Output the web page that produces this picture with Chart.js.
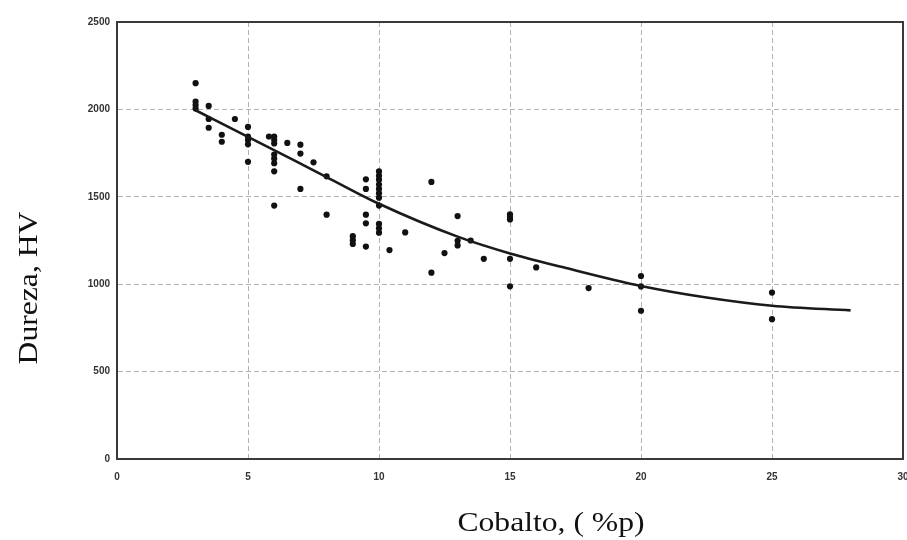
<!DOCTYPE html>
<html>
<head>
<meta charset="utf-8">
<title>Dureza vs Cobalto</title>
<script src="https://cdn.jsdelivr.net/npm/chart.js@4/dist/chart.umd.min.js"></script>
<style>
  html, body { margin: 0; padding: 0; background: #fff; }
  #wrap { width: 907px; height: 540px; position: relative; }
</style>
</head>
<body>
<div id="wrap"><canvas id="chart" width="907" height="540"></canvas></div>
<script>
// measured samples: cobalt content (%p) and Vickers hardness
const cobalt = [
  3, 3, 3, 3,
  3.5, 3.5, 3.5,
  4, 4,
  4.5,
  5, 5, 5, 5, 5,
  5.8,
  6, 6, 6, 6, 6, 6, 6, 6,
  6.5,
  7, 7, 7,
  7.5,
  8, 8,
  9, 9, 9,
  9.5, 9.5, 9.5, 9.5, 9.5,
  10, 10, 10, 10, 10, 10, 10, 10, 10, 10, 10,
  10.4,
  11,
  12, 12,
  12.5,
  13, 13, 13,
  13.5,
  14,
  15, 15, 15, 15, 15,
  16,
  18,
  20, 20, 20,
  25, 25
];
const hardness = [
  2150, 2045, 2025, 2005,
  2020, 1945, 1895,
  1855, 1815,
  1945,
  1900, 1845, 1825, 1800, 1700,
  1845,
  1845, 1825, 1805, 1742, 1718, 1692, 1646, 1450,
  1808,
  1798, 1747, 1545,
  1697,
  1617, 1398,
  1275, 1252, 1230,
  1600, 1545, 1398, 1348, 1215,
  1645, 1620, 1598, 1570, 1545, 1520, 1495, 1450, 1345, 1320, 1295,
  1195,
  1296,
  1585, 1066,
  1178,
  1390, 1248, 1222,
  1250,
  1145,
  1400, 1385, 1370, 1145, 988,
  1096,
  978,
  1047, 987, 848,
  952, 800
];

// trend curve read along its length
const trendX = [3, 5, 8, 10, 13, 15, 17, 20, 22.5, 25, 28];
const trendY = [1995, 1843, 1613, 1460, 1272, 1176, 1098, 990, 924, 877, 850];

const X_TICK_STEP = 5;
const Y_TICK_STEP = 500;
const X_TITLE = "Cobalto, ( %p)";
const Y_TITLE = "Dureza, HV";

const INK = "#111";
const GRID = "rgba(0,0,0,0.3)";
const FRAME = "#3a3a3a";

const points = cobalt.map((x, i) => ({ x, y: hardness[i] }));
const trend = trendX.map((x, i) => ({ x, y: trendY[i] }));

// closes the plot box on top and right
const frame = {
  id: "frame",
  afterDatasetsDraw(chart) {
    const { ctx, chartArea: a } = chart;
    ctx.save();
    ctx.strokeStyle = FRAME;
    ctx.lineWidth = 2;
    ctx.strokeRect(a.left, a.top, a.right - a.left, a.bottom - a.top);
    ctx.restore();
  },
};

// serif axis titles, slightly wide
const axisTitles = {
  id: "axisTitles",
  afterDraw(chart) {
    const { ctx } = chart;
    ctx.save();
    ctx.fillStyle = INK;
    ctx.font = '28px "Liberation Serif", "Times New Roman", serif';
    ctx.textAlign = "center";
    ctx.textBaseline = "alphabetic";

    ctx.save();
    ctx.translate(551, 531);
    ctx.scale(1.13, 1);
    ctx.fillText(X_TITLE, 0, 0);
    ctx.restore();

    ctx.save();
    ctx.translate(37, 288);
    ctx.rotate(-Math.PI / 2);
    ctx.scale(1.13, 1);
    ctx.fillText(Y_TITLE, 0, 0);
    ctx.restore();

    ctx.restore();
  },
};

const tickFont = { family: '"Liberation Sans", Arial, sans-serif', size: 10, weight: "bold" };
const plain = (v) => String(v);

new Chart(document.getElementById("chart"), {
  type: "scatter",
  data: {
    datasets: [
      {
        data: points,
        pointStyle: "circle",
        pointRadius: 3.1,
        pointBackgroundColor: INK,
        pointBorderWidth: 0,
        order: 2,
      },
      {
        data: trend,
        showLine: true,
        borderColor: "#1a1a1a",
        borderWidth: 2.6,
        pointRadius: 0,
        cubicInterpolationMode: "monotone",
        order: 1,
      },
    ],
  },
  options: {
    responsive: false,
    animation: false,
    layout: { padding: { top: 22, right: 4, left: 0, bottom: 0 } },
    plugins: {
      legend: { display: false },
      tooltip: { enabled: false },
    },
    scales: {
      x: {
        type: "linear",
        min: 0,
        max: 30,
        ticks: { stepSize: X_TICK_STEP, color: "#333", font: tickFont, padding: 12, maxRotation: 0, callback: plain },
        grid: { color: GRID, lineWidth: 1, drawTicks: false },
        border: { display: true, color: FRAME, width: 2, dash: [5, 3] },
        afterFit(scale) {
          scale.height = 81;
          scale.paddingLeft = 0;
          scale.paddingRight = 0;
        },
      },
      y: {
        type: "linear",
        min: 0,
        max: 2500,
        ticks: { stepSize: Y_TICK_STEP, color: "#333", font: tickFont, padding: 7, callback: plain },
        grid: { color: GRID, lineWidth: 1, drawTicks: false },
        border: { display: true, color: FRAME, width: 2, dash: [5, 3] },
        afterFit(scale) {
          scale.width = 117;
          scale.paddingTop = 0;
          scale.paddingBottom = 0;
        },
      },
    },
  },
  plugins: [frame, axisTitles],
});
</script>
</body>
</html>
